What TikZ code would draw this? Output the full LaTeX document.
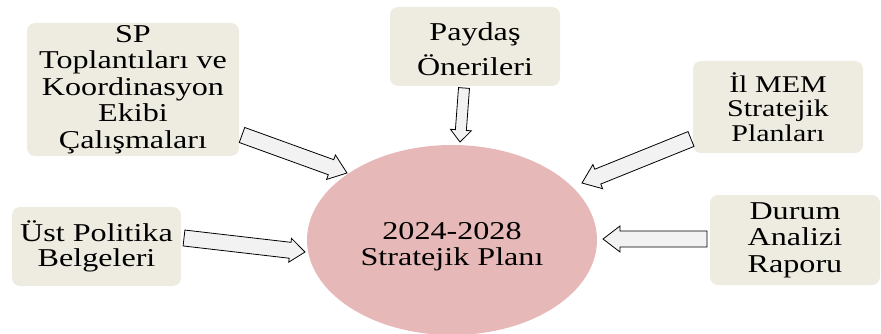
\documentclass[tikz,border=0pt]{standalone}
\usepackage{fontspec}
\setmainfont[FakeStretch=1.25]{Liberation Serif}
\usetikzlibrary{calc,shapes.geometric}
\definecolor{boxfill}{HTML}{EEECE1}
\definecolor{ellfill}{HTML}{E6B8B7}
\definecolor{arrfill}{HTML}{F2F2F2}
\tikzset{
  box/.style={fill=boxfill, rounded corners=8pt, inner sep=0pt, align=center,
    font=\fontsize{25.7}{26.5}\selectfont},
  planell/.style={ellipse, fill=ellfill, inner sep=0pt, align=center,
    minimum width=290pt, minimum height=190pt,
    font=\fontsize{25.7}{26}\selectfont},
  blockarrow/.style={draw=black, fill=arrfill, line width=0.8pt, line join=miter}
}
% #1 tail, #2 tip, #3 half shaft width, #4 half head width, #5 head length
\newcommand\blkarrow[5]{%
  \coordinate (bh) at ($(#2)!#5!(#1)$);
  \draw[blockarrow] ($(#1)!#3!90:(#2)$) -- ($(bh)!#3!90:(#2)$) -- ($(bh)!#4!90:(#2)$)
    -- (#2) -- ($(bh)!#4!-90:(#2)$) -- ($(bh)!#3!-90:(#2)$) -- ($(#1)!#3!-90:(#2)$) -- cycle;
}
\begin{document}
\begin{tikzpicture}[x=1pt,y=-1pt]
\useasboundingbox (0,0) rectangle (881,334);
\node[planell] (plan) at (452,240) {\rule{0pt}{31pt}2024-2028\\Stratejik Planı};
\node[box, minimum width=212pt, minimum height=133pt] (sp) at (133,89.5)
  {SP\\Toplantıları ve\\Koordinasyon\\Ekibi\\Çalışmaları};
\node[box, minimum width=170pt, minimum height=79pt,
  font=\fontsize{25.7}{34.5}\selectfont] (paydas) at (475,46.5) {\rule{0pt}{23pt}Paydaş\\Önerileri};
\node[box, minimum width=170pt, minimum height=92pt,
  font=\fontsize{24}{24.5}\selectfont] (ilmem) at (778,107) {İl MEM\\Stratejik\\Planları};
\node[box, minimum width=169pt, minimum height=79pt,
  font=\fontsize{25.7}{25.5}\selectfont] (ust) at (96.5,246.5) {Üst Politika\\Belgeleri};
\node[box, minimum width=170pt, minimum height=90pt] (durum) at (795,240) {Durum\\Analizi\\Raporu};
\coordinate (t1) at (242,135); \coordinate (p1) at (347,173);
\coordinate (t2) at (464,88);  \coordinate (p2) at (460,142);
\coordinate (t3) at (691,139); \coordinate (p3) at (582,183);
\coordinate (t4) at (184,238); \coordinate (p4) at (305,252);
\coordinate (t5) at (707,239); \coordinate (p5) at (603,239);
\blkarrow{t1}{p1}{8pt}{13pt}{17pt}
\blkarrow{t2}{p2}{5.5pt}{10.5pt}{12pt}
\blkarrow{t3}{p3}{8pt}{13pt}{17pt}
\blkarrow{t4}{p4}{8pt}{12pt}{15pt}
\blkarrow{t5}{p5}{8pt}{13pt}{17pt}
\end{tikzpicture}
\end{document}
